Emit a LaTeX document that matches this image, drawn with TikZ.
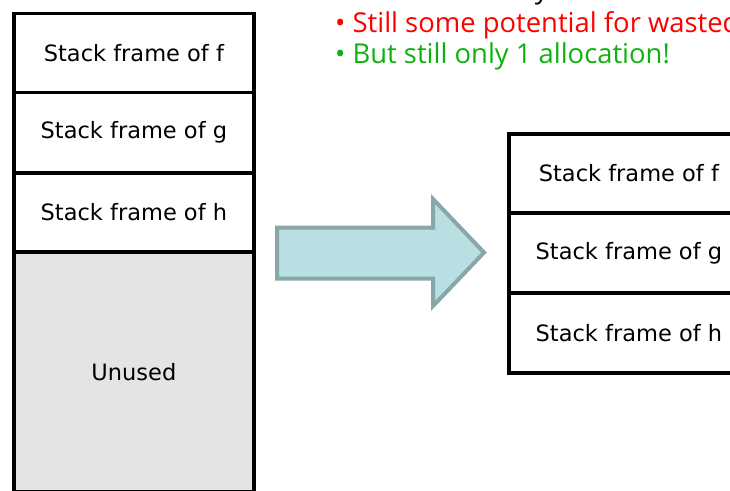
\documentclass[tikz,border=0pt]{standalone}
\usepackage{fontspec}
\setmainfont{DejaVu Sans}
\newfontfamily\bulletfont{Open Sans}
\definecolor{unusedgray}{HTML}{E4E4E4}
\definecolor{arrowfill}{HTML}{B9DFE2}
\definecolor{arrowline}{HTML}{88A7A8}
\definecolor{okgreen}{RGB}{14,178,14}
\definecolor{warnred}{RGB}{255,0,0}
\tikzset{
  frame/.style={draw=black, line width=3.8pt, fill=white, minimum width=240pt,
    minimum height=80pt, inner sep=0pt, anchor=north west,
    font=\fontsize{22.5}{26}\selectfont},
  bullet/.style={anchor=base west, inner sep=0pt,
    font=\bulletfont\fontsize{27.4}{31}\selectfont},
  blockarrow/.style={draw=arrowline, fill=arrowfill, line width=4pt, line join=miter}
}
\begin{document}
\begin{tikzpicture}[x=1pt,y=-1pt]
\useasboundingbox (0,0) rectangle (730,490);
\clip (0,0) rectangle (730,490);

% bullet points
\node[bullet, text=black] (b0) at (335,-2) {• Allocate exactly the needed amount};
\node[bullet, text=warnred] (b1) at (335,32) {• Still some potential for wasted space};
\node[bullet, text=okgreen] (b2) at (335,63) {• But still only 1 allocation!};

% stack before: three frames and unused space
\node[frame, minimum height=240pt, fill=unusedgray] (unused) at (12,250) {Unused};
\node[frame, minimum height=79pt] (lf) at (12,11.5) {Stack frame of f};
\node[frame] (lg) at (12,90.5) {Stack frame of g};
\node[frame, minimum height=79pt] (lh) at (12,171) {Stack frame of h};

% stack after: only the frames in use
\node[frame, minimum height=79pt] (rf) at (507,132) {Stack frame of f};
\node[frame] (rg) at (507,211) {Stack frame of g};
\node[frame] (rh) at (507,291) {Stack frame of h};

% block arrow between the two stacks
\draw[blockarrow] (277,227.5) -- (433,227.5) -- (433,199) -- (484,252.5)
  -- (433,306) -- (433,278.5) -- (277,278.5) -- cycle;
\end{tikzpicture}
\end{document}
